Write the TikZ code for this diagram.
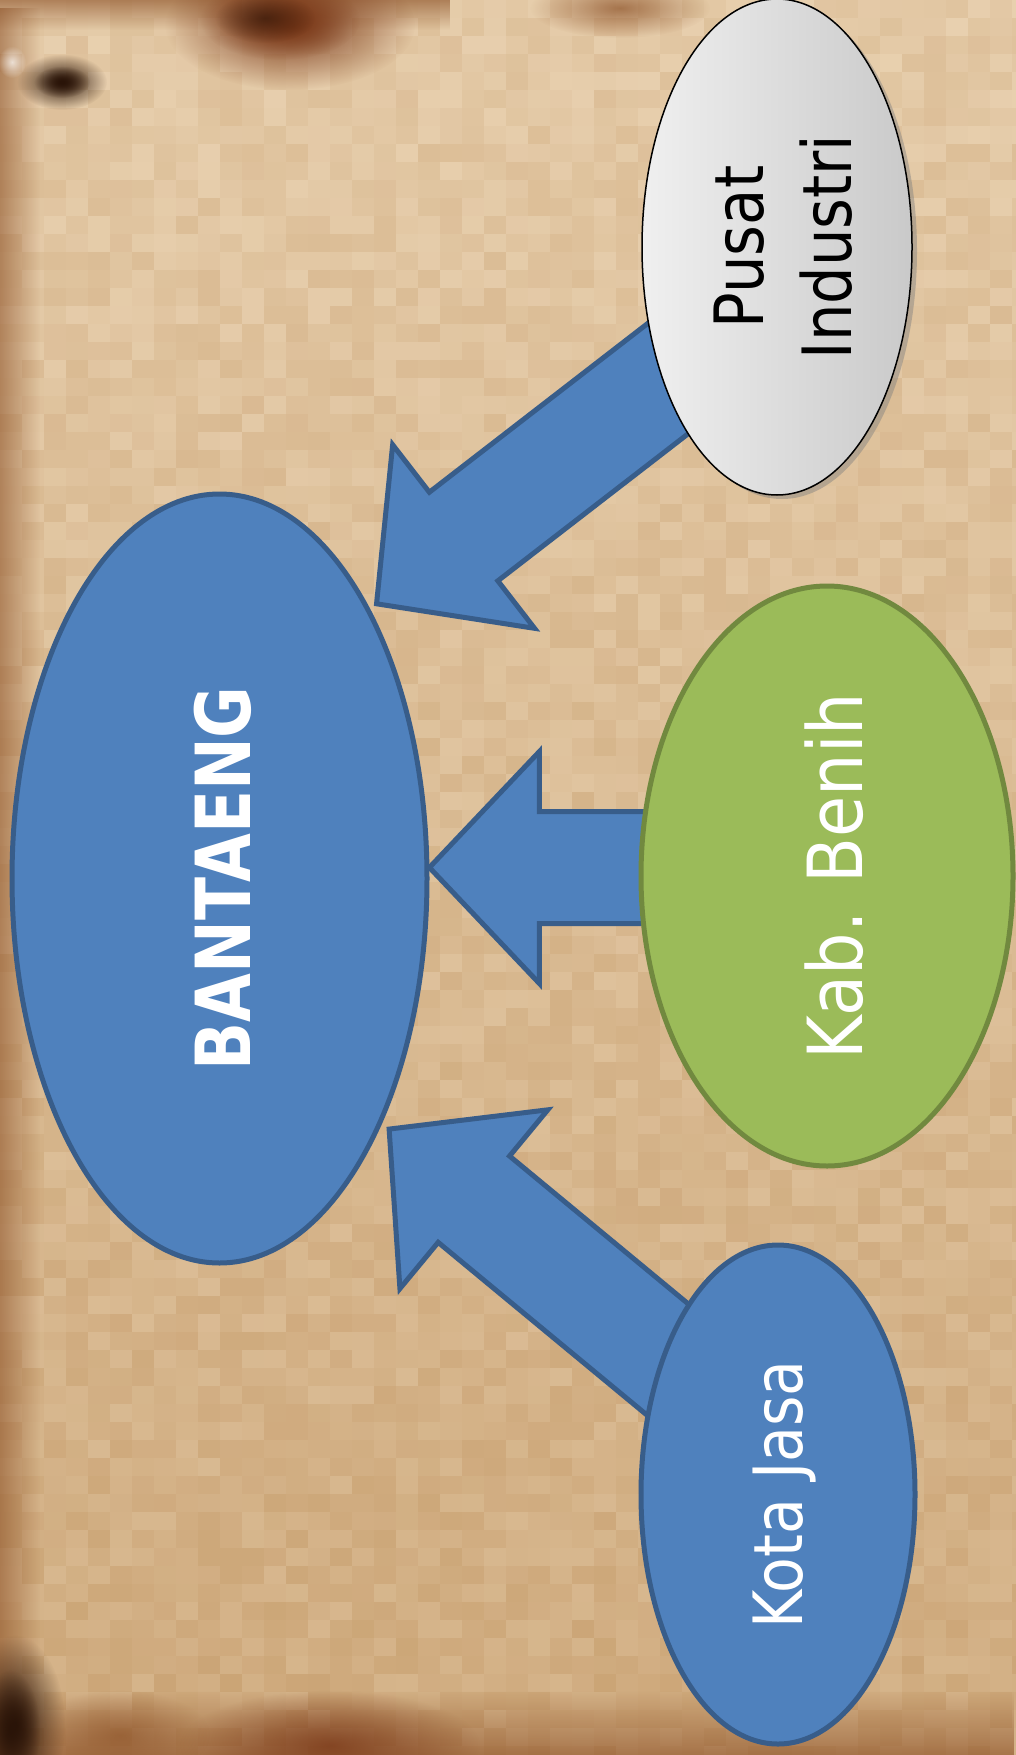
\documentclass[tikz,border=0pt]{standalone}
\usepackage{fontspec}
\setmainfont{DejaVu Sans}
\usepackage{graphicx}
\usetikzlibrary{shapes.geometric, shadows, fadings, positioning}

\definecolor{nodeblue}{HTML}{4F81BD}
\definecolor{edgeblue}{HTML}{385D8A}
\definecolor{leafgreen}{HTML}{9BBB59}
\definecolor{edgegreen}{HTML}{71893F}
\definecolor{paperlight}{HTML}{E8D0AF}
\definecolor{papertan}{HTML}{C49A68}
\definecolor{barkbrown}{HTML}{8A4E24}
\definecolor{rustbrown}{HTML}{7A3818}
\definecolor{darkbark}{HTML}{2A1408}

\tikzfading[name=fadeleft, left color=transparent!0, right color=transparent!100]
\tikzfading[name=fadebottom, bottom color=transparent!0, top color=transparent!100]
\tikzfading[name=fadetop, top color=transparent!0, bottom color=transparent!100]
\tikzfading[name=softspot, inner color=transparent!0, outer color=transparent!100]

\pgfdeclarelayer{paper}
\pgfdeclarelayer{links}
\pgfsetlayers{paper,links,main}

% rotated label: [xscale]{drop to the right}{text}
\newcommand{\sidelabel}[3][0.87]{\rotatebox{90}{\raisebox{-#2pt}[\height][\depth]{\scalebox{#1}[1]{#3}}}}
\newcommand{\bigarrow}[3]{%
  \begin{scope}[shift={(#1)}, rotate=#2]
    \draw[blockarrow] (0,0) -- (110,116) -- (110,56) -- (#3,56) -- (#3,-56)
      -- (110,-56) -- (110,-116) -- cycle;
  \end{scope}}

\tikzset{
  place/.style={ellipse, inner sep=0pt, text=white, fill=nodeblue, draw=edgeblue, line width=5pt},
  hub/.style={place, font=\fontsize{76}{90}\selectfont\bfseries},
  town/.style={place, font=\fontsize{68}{80}\selectfont},
  seed/.style={place, fill=leafgreen, draw=edgegreen, font=\fontsize{76}{90}\selectfont},
  works/.style={ellipse, inner sep=0pt, text=black, draw=black, line width=1.5pt,
    left color=gray!12, right color=gray!42, font=\fontsize{68}{88}\selectfont,
    drop shadow={shadow xshift=5pt, shadow yshift=-4pt, opacity=0.45}},
  blockarrow/.style={fill=nodeblue, draw=edgeblue, line width=5pt, line join=miter},
  spot/.style={path fading=softspot},
}

\begin{document}
\begin{tikzpicture}[x=1pt, y=-1pt]
  \useasboundingbox (0,0) rectangle (1015,1755);

  % paper background
  \begin{pgfonlayer}{paper}
    \pgfmathsetseed{42}
    \foreach \col in {0,...,46} {
      \foreach \row in {0,...,97} {
        \pgfmathtruncatemacro{\tone}{max(0,min(100,14+0.55*\row+30*rnd-15))}
        \fill[papertan!\tone!paperlight] (\col*22,\row*18) rectangle ++(22.5,18.5);
      }
    }
    \fill[barkbrown, opacity=0.55, path fading=fadeleft] (0,0) rectangle (40,1755);
    \fill[barkbrown, opacity=0.6, path fading=fadebottom] (0,1690) rectangle (1015,1755);
    \fill[barkbrown, opacity=0.6, path fading=fadetop] (0,0) rectangle (450,30);
    \fill[rustbrown, spot] (290,25) ellipse (125 and 65);
    \fill[rustbrown, spot] (280,20) ellipse (80 and 40);
    \fill[darkbark, opacity=0.6, spot] (265,18) ellipse (50 and 25);
    \fill[barkbrown, opacity=0.7, spot] (620,8) ellipse (90 and 30);
    \fill[darkbark, spot] (62,82) ellipse (45 and 28);
    \fill[darkbark, spot] (62,82) ellipse (28 and 16);
    \fill[white, opacity=0.7, spot] (12,62) ellipse (14 and 16);
    \fill[darkbark, spot] (15,1725) ellipse (50 and 90);
    \fill[darkbark, spot] (10,1730) ellipse (30 and 60);
    \fill[rustbrown, opacity=0.8, spot] (330,1745) ellipse (150 and 55);
    \fill[barkbrown, opacity=0.6, spot] (120,1735) ellipse (90 and 45);
  \end{pgfonlayer}

  \node[hub, minimum width=415, minimum height=769] (bantaeng) at (219.5,878.5) {\sidelabel[0.83]{3}{BANTAENG}};
  \node[works, minimum width=270, minimum height=496] (pusat) at (777,247)
    {\sidelabel{13}{\begin{tabular}{@{}c@{}}Pusat\\Industri\end{tabular}}};
  \node[seed, minimum width=372, minimum height=580] (benih) at (827,876) {\sidelabel[0.88]{7}{Kab. Benih}};
  \node[town, minimum width=274, minimum height=499] (jasa) at (778,1494.5) {\sidelabel[0.86]{7}{Kota Jasa}};

  % block arrows into the hub
  \begin{pgfonlayer}{links}
    \bigarrow{[shift={(7,-4)}]bantaeng.61}{37.7}{450}
    \bigarrow{bantaeng.3}{0}{280}
    \bigarrow{[shift={(6,8)}]bantaeng.-56}{-39.6}{450}
  \end{pgfonlayer}
\end{tikzpicture}
\end{document}
